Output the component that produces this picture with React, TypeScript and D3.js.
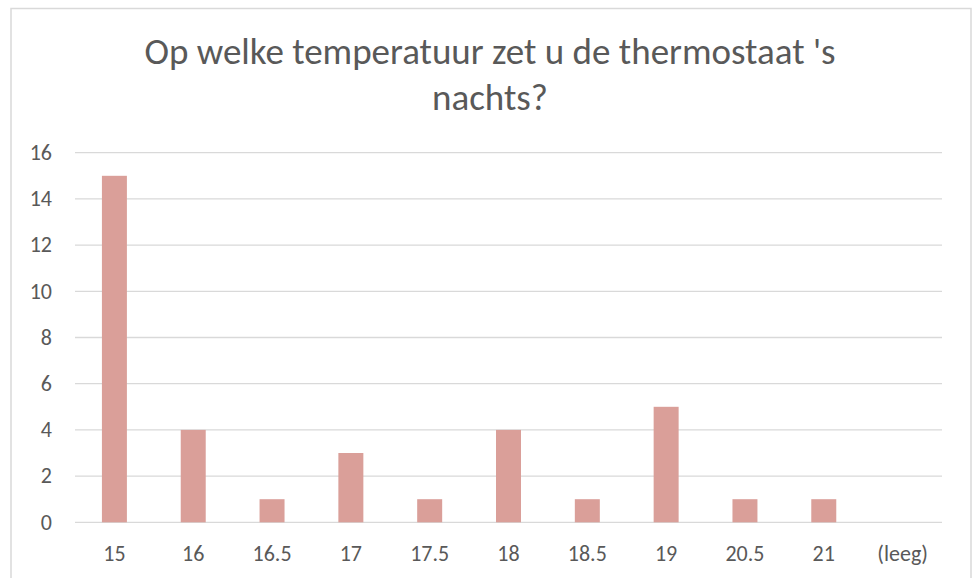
import { scaleBand, scaleLinear } from "d3";
import type { FC } from "react";

const categories = ["15", "16", "16.5", "17", "17.5", "18", "18.5", "19", "20.5", "21", "(leeg)"];
const counts = [15, 4, 1, 3, 1, 4, 1, 5, 1, 1, 0];
const yTicks = [0, 2, 4, 6, 8, 10, 12, 14, 16];
const titleLines = ["Op welke temperatuur zet u de thermostaat 's", "nachts?"];

const W = 978;
const H = 578;
const margin = { top: 152.7, right: 36, bottom: 55.7, left: 75 };
const font = "Calibri, Carlito, 'Open Sans', sans-serif";

const App: FC = () => {
  const x = scaleBand<string>()
    .domain(categories)
    .range([margin.left, W - margin.right]);
  const y = scaleLinear()
    .domain([0, 16])
    .range([H - margin.bottom, margin.top]);
  const barW = x.bandwidth() * 0.317;

  return (
    <svg
      width={W}
      height={H}
      style={{ position: "absolute", top: 0, left: 0, background: "#fff" }}
      fontFamily={font}
    >
      {/* rand om de grafiek */}
      <rect x={11} y={8.5} width={960} height={600} fill="none" stroke="#d9d9d9" strokeWidth={1.5} />

      {titleLines.map((t, i) => (
        <text
          key={i}
          x={490}
          y={64 + i * 46}
          textAnchor="middle"
          fontSize={37}
          fill="#595959"
        >
          {t}
        </text>
      ))}

      {/* rasterlijnen */}
      {yTicks.map((v) => (
        <g key={v}>
          <line
            x1={margin.left}
            x2={W - margin.right}
            y1={y(v)}
            y2={y(v)}
            stroke="#d9d9d9"
            strokeWidth={1.3}
          />
          <text x={52} y={y(v)} dy="0.33em" textAnchor="end" fontSize={22} fill="#595959">
            {v}
          </text>
        </g>
      ))}

      {/* staven */}
      {categories.map((c, i) => (
        <rect
          key={c}
          x={x(c)! + x.bandwidth() / 2 - barW / 2}
          y={y(counts[i])}
          width={barW}
          height={y(0) - y(counts[i])}
          fill="#da9f99"
        />
      ))}

      {categories.map((c) => (
        <text
          key={c}
          x={x(c)! + x.bandwidth() / 2}
          y={561}
          textAnchor="middle"
          fontSize={22}
          fill="#595959"
        >
          {c}
        </text>
      ))}
    </svg>
  );
};

export default App;
